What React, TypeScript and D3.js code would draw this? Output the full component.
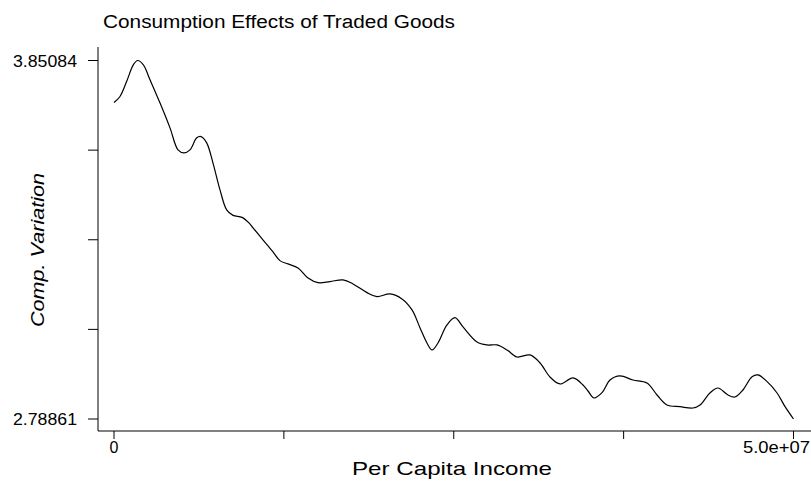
import React from "react";
import * as d3 from "d3";

const incomeM = [
  0, 0.44, 0.93, 1.42, 1.74, 2.16, 2.65, 3.38, 4.12, 4.71, 5.15, 5.59, 6.09, 6.4, 6.82, 7.28, 7.8, 8.29, 8.76, 9.42,
  9.93, 10.23, 10.96, 11.7, 12.21, 12.8, 13.54, 14.28, 15.01, 15.89, 16.85, 17.59, 18.62, 19.35, 20.31, 21.19,
  21.93, 22.52, 23.03, 23.4, 23.84, 24.5, 25.09, 25.68, 26.71, 27.45, 28.18, 28.92, 29.65, 30.61, 31.35, 32.08,
  32.82, 33.78, 34.51, 34.88, 35.32, 35.91, 36.5, 37.23, 38.19, 39.22, 39.96, 40.69, 41.65, 42.6, 43.12, 43.85,
  44.44, 45.18, 45.69, 46.28, 46.95, 47.39, 48.06, 48.79, 49.38, 50.0,
];
const compVariation = [
  3.7263, 3.7441, 3.7886, 3.8381, 3.85084, 3.8381, 3.7936, 3.7254, 3.6513, 3.5861, 3.5772, 3.5861, 3.6217, 3.6255,
  3.6069, 3.5476, 3.4675, 3.4082, 3.3919, 3.386, 3.3697, 3.3549, 3.3193, 3.2837, 3.2579, 3.2481, 3.2363, 3.2066,
  3.1927, 3.1957, 3.2007, 3.1888, 3.1631, 3.1512, 3.1592, 3.1444, 3.1118, 3.0584, 3.0139, 2.9932, 3.0139, 3.0673,
  3.0889, 3.0614, 3.0169, 3.008, 3.008, 2.9932, 2.9724, 2.9784, 2.9546, 2.9131, 2.8924, 2.9102, 2.8894, 2.8716,
  2.8509, 2.8666, 2.9042, 2.9161, 2.9042, 2.8953, 2.8598, 2.8301, 2.8251, 2.8212, 2.8301, 2.8657, 2.8805, 2.8598,
  2.8539, 2.8746, 2.914, 2.9191, 2.8992, 2.8657, 2.8251, 2.78861,
];
const yMin = 2.78861;
const yMax = 3.85084;
const xTickValues = [0, 12.5e6, 25e6, 37.5e6, 50e6];
const xTickLabels = ["0", "", "", "", "5.0e+07"];
const yTickLabels = ["2.78861", "", "", "", "3.85084"];
const title = "Consumption Effects of Traded Goods";
const xTitle = "Per Capita Income";
const yTitle = "Comp. Variation";

const W = 811;
const H = 484;
const font = "'Liberation Sans', Arial, Helvetica, sans-serif";

export default function App() {
  const x = d3.scaleLinear().domain([0, 5e7]).range([114, 793.5]);
  const y = d3.scaleLinear().domain([yMin, yMax]).range([419, 60.5]);
  const yTicks = d3.range(5).map((i) => yMin + ((yMax - yMin) * i) / 4);
  const axisX = 98;
  const axisY = 431;
  const pts: [number, number][] = incomeM.map((v, i) => [v * 1e6, compVariation[i]]);
  const line = d3
    .line<[number, number]>()
    .x((d) => x(d[0]))
    .y((d) => y(d[1]))
    .curve(d3.curveCatmullRom.alpha(0.5));

  return (
    <svg width={W} height={H} style={{ position: "absolute", left: 0, top: 0, background: "#fff" }}>
      <rect x={0} y={0} width={W} height={H} fill="#fff" />
      <text x={103} y={28} fontFamily={font} fontSize={18} textLength={352} lengthAdjust="spacingAndGlyphs" fill="#000">
        {title}
      </text>
      {/* y axis */}
      <line x1={axisX} x2={axisX} y1={47} y2={axisY} stroke="#000" strokeWidth={1} />
      {yTicks.map((t, i) => (
        <g key={i}>
          <line x1={axisX - 10} x2={axisX} y1={y(t)} y2={y(t)} stroke="#000" strokeWidth={1} />
          {yTickLabels[i] && (
            <text
              x={77}
              y={y(t) + 6}
              textAnchor="end"
              fontFamily={font}
              fontSize={16}
              textLength={64}
              lengthAdjust="spacingAndGlyphs"
              fill="#000"
            >
              {yTickLabels[i]}
            </text>
          )}
        </g>
      ))}
      <text
        transform={`translate(44,250) rotate(-90)`}
        textAnchor="middle"
        fontFamily={font}
        fontStyle="italic"
        fontSize={18}
        textLength={154}
        lengthAdjust="spacingAndGlyphs"
        fill="#000"
      >
        {yTitle}
      </text>
      {/* x axis */}
      <line x1={axisX} x2={W} y1={axisY} y2={axisY} stroke="#000" strokeWidth={1} />
      {xTickValues.map((t, i) => {
        const last = i === xTickValues.length - 1;
        return (
          <g key={i}>
            <line x1={x(t)} x2={x(t)} y1={axisY} y2={axisY + 8} stroke="#000" strokeWidth={1} />
            {xTickLabels[i] && (
              <text
                x={last ? 810 : x(t)}
                y={453}
                textAnchor={last ? "end" : "middle"}
                fontFamily={font}
                fontSize={16}
                textLength={last ? 67 : undefined}
                lengthAdjust={last ? "spacingAndGlyphs" : undefined}
                fill="#000"
              >
                {xTickLabels[i]}
              </text>
            )}
          </g>
        );
      })}
      <text
        x={452}
        y={475}
        textAnchor="middle"
        fontFamily={font}
        fontSize={19}
        textLength={200}
        lengthAdjust="spacingAndGlyphs"
        fill="#000"
      >
        {xTitle}
      </text>
      <path d={line(pts) || ""} fill="none" stroke="#000" strokeWidth={1.2} />
    </svg>
  );
}
